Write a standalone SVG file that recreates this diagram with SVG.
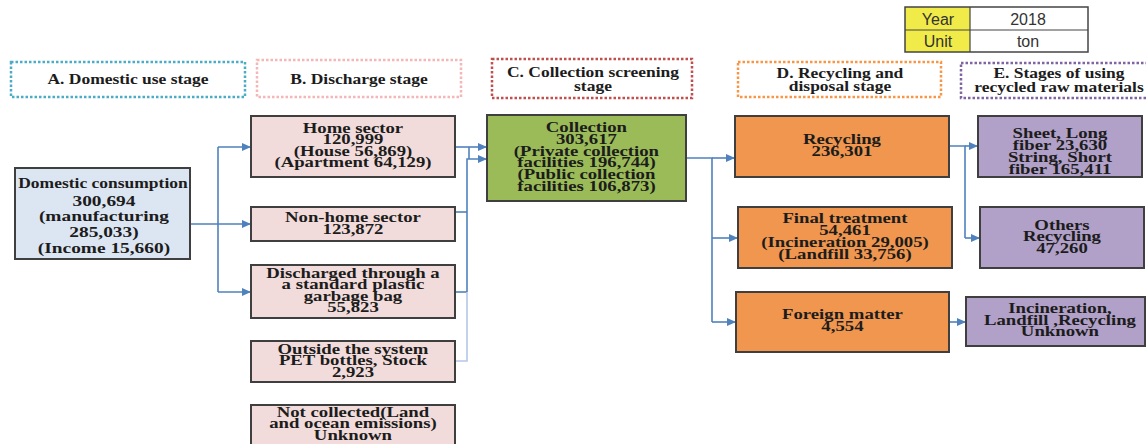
<svg xmlns="http://www.w3.org/2000/svg" width="1146" height="444" viewBox="0 0 1146 444">
<defs>
<style>
.t{font-family:"Liberation Serif","Times New Roman",serif;font-weight:bold;font-size:15px;fill:#1c1c1c;text-anchor:middle;transform-box:fill-box;transform-origin:center;transform:scale(1.25,1)}
.h{font-size:14px}
.d{font-size:15.5px}
.n{stroke:#3f3f3f;stroke-width:2}
.pink{fill:#F2DCDB}
.hd{fill:none;stroke-width:2.5;stroke-dasharray:2.5 2}
.c{fill:none;stroke:#4F81BD;stroke-width:1.6}
.cl{fill:none;stroke:#B4C7E7;stroke-width:1.6}
.a{marker-end:url(#arr)}
.tb{font-family:"Liberation Sans",Arial,sans-serif;font-size:16px;fill:#333;text-anchor:middle}
</style>
<marker id="arr" markerUnits="userSpaceOnUse" markerWidth="10" markerHeight="8" refX="9" refY="4" orient="auto">
<path d="M0,0 L9,4 L0,8 z" fill="#4F81BD"/>
</marker>
</defs>
<rect width="1146" height="444" fill="#fff"/>

<g id="legend">
<rect x="905" y="7" width="65" height="45" fill="#F0EB48"/>
<rect x="905" y="7" width="183" height="45" fill="none" stroke="#444" stroke-width="1.5"/>
<line x1="970" y1="7" x2="970" y2="52" stroke="#444" stroke-width="1.2"/>
<line x1="905" y1="30" x2="1088" y2="30" stroke="#444" stroke-width="1.2"/>
<text class="tb" x="938" y="24.5">Year</text>
<text class="tb" x="1028" y="24.5">2018</text>
<text class="tb" x="938" y="47">Unit</text>
<text class="tb" x="1028" y="47">ton</text>
</g>

<g id="header-a">
<rect class="hd" x="11" y="62" width="234" height="35" stroke="#4BACC6"/>
<text class="t h" x="128" y="84.5">A. Domestic use stage</text>
</g>
<g id="header-b">
<rect class="hd" x="257" y="60" width="204" height="37" stroke="#F4B6B6"/>
<text class="t h" x="359" y="84">B. Discharge stage</text>
</g>
<g id="header-c">
<rect class="hd" x="492" y="59" width="200" height="39" stroke="#C0504D"/>
<text class="t h" x="593" y="77.5">C. Collection screening</text>
<text class="t h" x="593" y="91.5">stage</text>
</g>
<g id="header-d">
<rect class="hd" x="738" y="62" width="203" height="35" stroke="#F79646"/>
<text class="t h" x="840" y="78">D. Recycling and</text>
<text class="t h" x="840" y="91.5">disposal stage</text>
</g>
<g id="header-e">
<rect class="hd" x="961" y="63" width="192" height="35" stroke="#8064A2"/>
<text class="t h" x="1059" y="78">E. Stages of using</text>
<text class="t h" x="1059" y="92">recycled raw materials</text>
</g>

<g id="connectors">
<path class="c a" d="M189,224 L251,224"/>
<path class="c" d="M218,147 L218,292"/>
<path class="c a" d="M218,147 L251,147"/>
<path class="c a" d="M218,292 L251,292"/>
<path class="c a" d="M455,147 L487,147"/>
<path class="c" d="M469,147 L469,159"/>
<path class="c" d="M455,212 L467,212"/>
<path class="c" d="M455,292 L467,292"/>
<path class="cl" d="M456,361 L467,361 L467,292"/>
<path class="c a" d="M467,292 L467,159 L487,159"/>
<path class="c" d="M686,158 L712,158 L712,322"/>
<path class="c a" d="M712,158 L735,158"/>
<path class="c a" d="M712,238 L738,238"/>
<path class="c a" d="M712,322 L736,322"/>
<path class="c" d="M949,146 L965,146 L965,238"/>
<path class="c a" d="M965,146 L978,146"/>
<path class="c a" d="M965,238 L980,238"/>
<path class="c a" d="M949,322 L966,322"/>
</g>

<g id="domestic">
<rect class="n" x="15" y="168" width="175" height="91" fill="#DCE6F2"/>
<text class="t h" x="103" y="188">Domestic consumption</text>
<text class="t d" x="104" y="206">300,694</text>
<text class="t d" x="104" y="221.5">(manufacturing</text>
<text class="t d" x="104" y="237">285,033)</text>
<text class="t d" x="104" y="253">(Income 15,660)</text>
</g>

<g id="home">
<rect class="n pink" x="251" y="116" width="204" height="61"/>
<text class="t" x="353" y="133">Home sector</text>
<text class="t" x="353" y="144.5">120,999</text>
<text class="t" x="353" y="156">(House 56,869)</text>
<text class="t" x="353" y="167.5">(Apartment 64,129)</text>
</g>
<g id="nonhome">
<rect class="n pink" x="251" y="207" width="204" height="34"/>
<text class="t" x="353" y="222">Non-home sector</text>
<text class="t" x="353" y="234">123,872</text>
</g>
<g id="discharged">
<rect class="n pink" x="251" y="265" width="204" height="53"/>
<text class="t" x="353" y="278">Discharged through a</text>
<text class="t" x="353" y="289.5">a standard plastic</text>
<text class="t" x="353" y="301">garbage bag</text>
<text class="t" x="353" y="312.5">55,823</text>
</g>
<g id="outside">
<rect class="n pink" x="251" y="341" width="204" height="41"/>
<text class="t" x="353" y="354">Outside the system</text>
<text class="t" x="353" y="365.5">PET bottles, Stock</text>
<text class="t" x="353" y="377">2,923</text>
</g>
<g id="notcollected">
<rect class="n pink" x="251" y="405" width="204" height="45"/>
<text class="t" x="353" y="417">Not collected(Land</text>
<text class="t" x="353" y="428.5">and ocean emissions)</text>
<text class="t" x="353" y="440">Unknown</text>
</g>

<g id="collection">
<rect class="n" x="487" y="115" width="199" height="86" fill="#9BBB59"/>
<text class="t" x="586.5" y="132">Collection</text>
<text class="t" x="586.5" y="143.8">303,617</text>
<text class="t" x="586.5" y="155.6">(Private collection</text>
<text class="t" x="586.5" y="167.4">facilities 196,744)</text>
<text class="t" x="586.5" y="179.2">(Public collection</text>
<text class="t" x="586.5" y="191">facilities 106,873)</text>
</g>

<g id="recycling">
<rect class="n" x="735" y="116" width="214" height="61" fill="#F0964F"/>
<text class="t" x="842" y="144.5">Recycling</text>
<text class="t" x="842" y="156.5">236,301</text>
</g>
<g id="final">
<rect class="n" x="738" y="207" width="214" height="61" fill="#F0964F"/>
<text class="t" x="845" y="223.5">Final treatment</text>
<text class="t" x="845" y="235.5">54,461</text>
<text class="t" x="845" y="247.5">(Incineration 29,005)</text>
<text class="t" x="845" y="259.5">(Landfill 33,756)</text>
</g>
<g id="foreign">
<rect class="n" x="736" y="292" width="213" height="60" fill="#F0964F"/>
<text class="t" x="842.5" y="319.5">Foreign matter</text>
<text class="t" x="842.5" y="331">4,554</text>
</g>

<g id="sheet">
<rect class="n" x="978" y="116" width="164" height="61" fill="#B1A0C7"/>
<text class="t" x="1060" y="138.5">Sheet, Long</text>
<text class="t" x="1060" y="150">fiber 23,630</text>
<text class="t" x="1060" y="162">String, Short</text>
<text class="t" x="1060" y="174">fiber 165,411</text>
</g>
<g id="others">
<rect class="n" x="980" y="207" width="164" height="61" fill="#B1A0C7"/>
<text class="t" x="1062" y="230">Others</text>
<text class="t" x="1062" y="241.5">Recycling</text>
<text class="t" x="1062" y="253">47,260</text>
</g>
<g id="unknown">
<rect class="n" x="966" y="297" width="179" height="49" fill="#B1A0C7"/>
<text class="t" x="1060" y="313">Incineration,</text>
<text class="t" x="1060" y="325">Landfill ,Recycling</text>
<text class="t" x="1060" y="336.5">Unknown</text>
</g>
</svg>
